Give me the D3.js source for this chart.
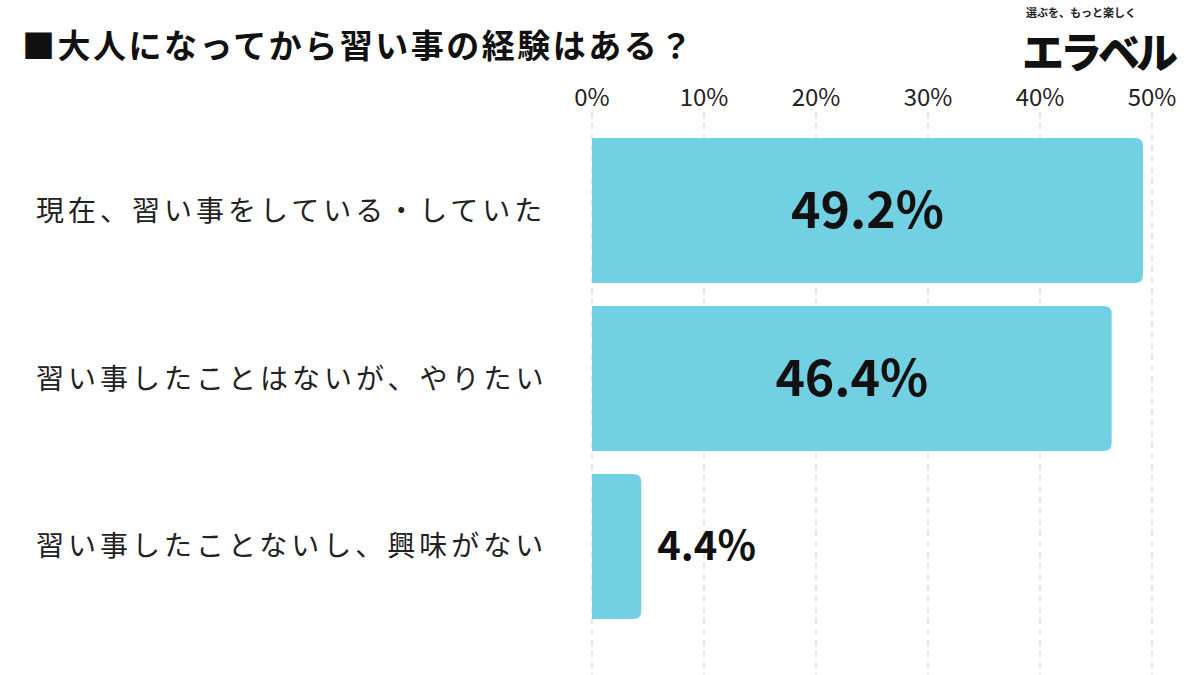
<!DOCTYPE html>
<html><head><meta charset="utf-8">
<script src="https://cdn.jsdelivr.net/npm/d3@7"></script>
<style>body{margin:0;background:#fff}</style></head>
<body><svg id="c" width="1200" height="675"></svg>
<script>
const title = "■大人になってから習い事の経験はある？";
const categories = ["現在、習い事をしている・していた","習い事したことはないが、やりたい","習い事したことないし、興味がない"];
const values = [49.2, 46.4, 4.4];
const ticks = [0,10,20,30,40,50];
const svg = d3.select("#c");
const F = "'Noto Sans CJK JP','Noto Sans',sans-serif";
const x = d3.scaleLinear().domain([0,50]).range([592,1152]);
const y = d3.scaleBand().domain(categories).range([128,629]).paddingInner(0.137).paddingOuter(0.06);
svg.append("text").attr("x",22).attr("y",58).attr("font-family",F).attr("font-weight",700).attr("font-size",33).attr("letter-spacing",2.5).attr("fill","#111").text(title);
// logo
const lg=svg.append("g");
lg.append("text").attr("x",1026).attr("y",17).attr("font-family",F).attr("font-weight",700).attr("font-size",11).attr("fill","#222").text("選ぶを、もっと楽しく");
lg.append("text").attr("x",1022).attr("y",68).attr("font-family",F).attr("font-weight",900).attr("font-size",42).attr("letter-spacing",-4).attr("fill","#111").text("エラベル");
// grid
svg.append("g").selectAll("line").data(ticks).join("line")
 .attr("x1",d=>x(d)).attr("x2",d=>x(d)).attr("y1",112).attr("y2",675)
 .attr("stroke","#ddd").attr("stroke-width",1.5).attr("stroke-dasharray","6,5");
svg.append("g").selectAll("text").data(ticks).join("text")
 .attr("x",d=>x(d)).attr("y",106).attr("text-anchor","middle").attr("font-family",F).attr("font-size",24).attr("fill","#222").text(d=>d+"%");
const r=8;
svg.append("g").selectAll("path").data(values).join("path")
 .attr("d",(d,i)=>{const x0=x(0),x1=x(d),y0=y(categories[i]),h=y.bandwidth();
   return `M${x0},${y0}H${x1-r}Q${x1},${y0} ${x1},${y0+r}V${y0+h-r}Q${x1},${y0+h} ${x1-r},${y0+h}H${x0}Z`;})
 .attr("fill","#72d0e3");
svg.append("g").selectAll("text").data(categories).join("text")
 .attr("x",36).attr("y",d=>y(d)+y.bandwidth()/2+10).attr("font-family",F).attr("font-size",28).attr("letter-spacing",4).attr("fill","#222").text(d=>d);
svg.append("g").selectAll("text").data(values).join("text")
 .attr("x",d=>d>20?(x(0)+x(d))/2:x(d)+16).attr("text-anchor",d=>d>20?"middle":"start")
 .attr("y",(d,i)=>y(categories[i])+y.bandwidth()/2+(d>20?17:14))
 .attr("font-family",F).attr("font-weight",700).attr("font-size",d=>d>20?50:40).attr("fill","#111").text(d=>d.toFixed(1)+"%");
</script></body></html>
